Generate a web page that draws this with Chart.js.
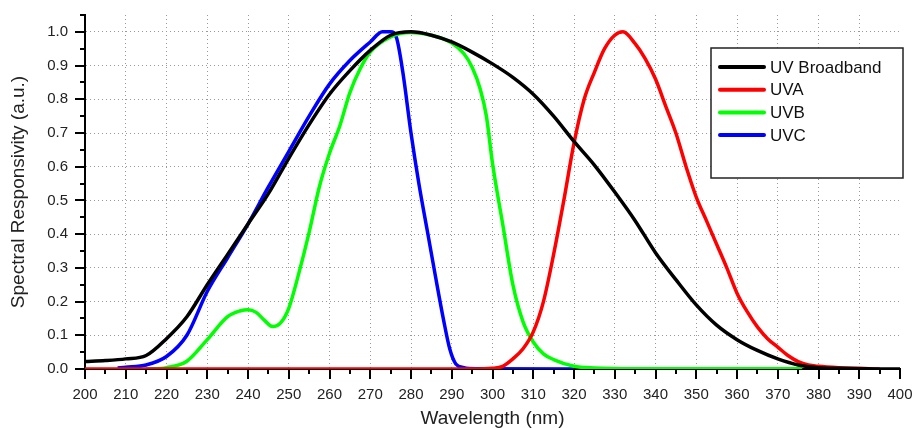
<!DOCTYPE html>
<html>
<head>
<meta charset="utf-8">
<script src="https://cdn.jsdelivr.net/npm/chart.js@4.4.1/dist/chart.umd.min.js"></script>
<style>
  html, body { margin: 0; padding: 0; background: #fff; }
  #wrap { width: 915px; height: 428px; }
</style>
</head>
<body>
<div id="wrap"><canvas id="spectra" width="915" height="428"></canvas></div>
<script>
// wavelengths (nm) and responsivity
const broadbandWl = [200, 205, 210, 215, 220, 225, 230, 235, 240, 245, 250, 255, 260, 265, 270, 275, 280, 285, 290, 295, 300, 305, 310, 315, 320, 325, 330, 335, 340, 345, 350, 355, 360, 365, 370, 375, 380, 385, 390, 395, 400];
const broadbandVal = [0.022, 0.025, 0.03, 0.04, 0.09, 0.155, 0.25, 0.34, 0.43, 0.52, 0.625, 0.725, 0.815, 0.885, 0.945, 0.99, 1.0, 0.99, 0.97, 0.94, 0.905, 0.865, 0.815, 0.75, 0.675, 0.605, 0.525, 0.44, 0.345, 0.265, 0.19, 0.13, 0.087, 0.055, 0.03, 0.012, 0.004, 0.002, 0.001, 0, 0];

const uvaWl = [200, 295, 300, 302.5, 305, 307.5, 310, 312.5, 315, 317.5, 320, 322.5, 325, 327.5, 330, 332, 335, 337.5, 340, 342.5, 345, 347.5, 350, 352.5, 355, 357.5, 360, 362.5, 365, 367.5, 370, 372.5, 375, 377.5, 380, 385, 390, 395];
const uvaVal = [0, 0, 0.002, 0.008, 0.03, 0.06, 0.11, 0.2, 0.34, 0.5, 0.67, 0.8, 0.88, 0.95, 0.99, 1.0, 0.965, 0.92, 0.86, 0.78, 0.7, 0.6, 0.51, 0.44, 0.37, 0.3, 0.225, 0.17, 0.125, 0.09, 0.065, 0.04, 0.022, 0.012, 0.008, 0.004, 0.002, 0];

const uvbWl = [215, 220, 225, 230, 235, 238, 240, 242, 244, 246, 248, 250, 252.5, 255, 257.5, 260, 262.5, 265, 267.5, 270, 275, 280, 285, 290, 293, 295, 297, 298.5, 300, 302.5, 305, 307.5, 310, 312.5, 315, 320, 325, 335, 376];
const uvbVal = [0, 0.004, 0.023, 0.087, 0.155, 0.172, 0.176, 0.168, 0.145, 0.126, 0.137, 0.18, 0.285, 0.405, 0.54, 0.64, 0.72, 0.82, 0.89, 0.94, 0.985, 0.998, 0.99, 0.967, 0.935, 0.895, 0.83, 0.75, 0.61, 0.43, 0.25, 0.14, 0.08, 0.045, 0.028, 0.008, 0.003, 0.001, 0.001];

const uvcWl = [208, 210, 215, 220, 225, 230, 235, 240, 245, 250, 255, 260, 265, 270, 273, 275, 276.5, 278, 280, 282, 284, 286, 288, 289.5, 291, 293, 296, 320];
const uvcVal = [0.003, 0.005, 0.012, 0.037, 0.1, 0.23, 0.33, 0.43, 0.54, 0.645, 0.75, 0.845, 0.915, 0.97, 1.0, 1.0, 0.98, 0.88, 0.7, 0.545, 0.41, 0.275, 0.145, 0.06, 0.015, 0.004, 0.001, 0];

const seriesNames = ['UV Broadband', 'UVA', 'UVB', 'UVC'];
const seriesColors = ['#000000', '#ff0000', '#00ff00', '#0000ff'];

const toPoints = (wl, val) => wl.map((x, i) => ({ x: x, y: val[i] }));

const FONT = "'Liberation Sans', Arial, sans-serif";

// minor/major tick marks, drawn outward like the original plot
const tickMarks = {
  id: 'tickMarks',
  afterDraw(chart) {
    const ctx = chart.ctx;
    const xs = chart.scales.x, ys = chart.scales.y;
    const area = chart.chartArea;
    ctx.save();
    ctx.strokeStyle = '#000';
    ctx.lineWidth = 2;
    xs.ticks.forEach(t => {
      const px = Math.round(xs.getPixelForValue(t.value));
      const len = t.value % 10 === 0 ? 10 : 5;
      ctx.beginPath();
      ctx.moveTo(px, area.bottom);
      ctx.lineTo(px, area.bottom + len);
      ctx.stroke();
    });
    ys.ticks.forEach(t => {
      const py = Math.round(ys.getPixelForValue(t.value));
      const len = Math.round(t.value * 100) % 10 === 0 ? 10 : 5;
      ctx.beginPath();
      ctx.moveTo(area.left, py);
      ctx.lineTo(area.left - len, py);
      ctx.stroke();
    });
    ctx.restore();
  }
};

// boxed legend inside the plot, top right
const boxLegend = {
  id: 'boxLegend',
  afterDraw(chart) {
    const ctx = chart.ctx;
    const bx = 711, by = 48, bw = 192, bh = 130;
    ctx.save();
    ctx.fillStyle = '#fff';
    ctx.fillRect(bx, by, bw, bh);
    ctx.strokeStyle = '#222';
    ctx.lineWidth = 1.5;
    ctx.strokeRect(bx, by, bw, bh);
    ctx.font = '17px ' + FONT;
    ctx.textBaseline = 'middle';
    ctx.textAlign = 'left';
    chart.data.datasets.forEach((ds, i) => {
      const y = 67 + i * 22.7;
      ctx.strokeStyle = ds.borderColor;
      ctx.lineWidth = 4;
      ctx.lineCap = 'round';
      ctx.beginPath();
      ctx.moveTo(720, y);
      ctx.lineTo(764, y);
      ctx.stroke();
      ctx.fillStyle = '#111';
      ctx.fillText(ds.label, 770, y + 1);
    });
    ctx.restore();
  }
};

new Chart(document.getElementById('spectra'), {
  type: 'line',
  data: {
    datasets: [
      { label: seriesNames[0], data: toPoints(broadbandWl, broadbandVal), borderColor: seriesColors[0] },
      { label: seriesNames[1], data: toPoints(uvaWl, uvaVal), borderColor: seriesColors[1] },
      { label: seriesNames[2], data: toPoints(uvbWl, uvbVal), borderColor: seriesColors[2] },
      { label: seriesNames[3], data: toPoints(uvcWl, uvcVal), borderColor: seriesColors[3] }
    ]
  },
  options: {
    responsive: false,
    animation: false,
    layout: { padding: 0 },
    elements: {
      line: { borderWidth: 3.5, cubicInterpolationMode: 'monotone', fill: false },
      point: { radius: 0 }
    },
    plugins: {
      legend: { display: false },
      tooltip: { enabled: false }
    },
    scales: {
      x: {
        type: 'linear',
        min: 200,
        max: 400,
        afterFit: s => { s.height = 59; s.paddingRight = 15; },
        ticks: {
          stepSize: 5,
          autoSkip: false,
          maxRotation: 0,
          padding: 17,
          color: '#222',
          font: { family: FONT, size: 15 },
          callback: v => (v % 10 === 0 ? String(v) : '')
        },
        grid: {
          drawTicks: false,
          lineWidth: 1,
          color: c => (c.tick && c.tick.value % 10 === 0 && c.tick.value > 200 && c.tick.value < 400 ? '#999' : 'rgba(0,0,0,0)')
        },
        border: { display: true, color: '#000', width: 2, dash: [1, 3] },
        title: {
          display: true,
          text: 'Wavelength (nm)',
          color: '#222',
          font: { family: FONT, size: 19, lineHeight: 1 },
          padding: { top: 0, bottom: 0 }
        }
      },
      y: {
        min: 0,
        max: 1.05,
        afterFit: s => { s.width = 85; s.paddingTop = 15; },
        ticks: {
          stepSize: 0.05,
          autoSkip: false,
          padding: 17,
          color: '#222',
          font: { family: FONT, size: 15 },
          callback: v => (Math.round(v * 100) % 10 === 0 ? v.toFixed(1) : '')
        },
        grid: {
          drawTicks: false,
          lineWidth: 1,
          color: c => (c.tick && Math.round(c.tick.value * 100) % 10 === 0 && c.tick.value > 0.01 ? '#999' : 'rgba(0,0,0,0)')
        },
        border: { display: true, color: '#000', width: 2, dash: [1, 3] },
        title: {
          display: true,
          text: 'Spectral Responsivity (a.u.)',
          color: '#222',
          font: { family: FONT, size: 19, lineHeight: 1 },
          padding: { top: 9, bottom: 0 }
        }
      }
    }
  },
  plugins: [tickMarks, boxLegend]
});
</script>
</body>
</html>
